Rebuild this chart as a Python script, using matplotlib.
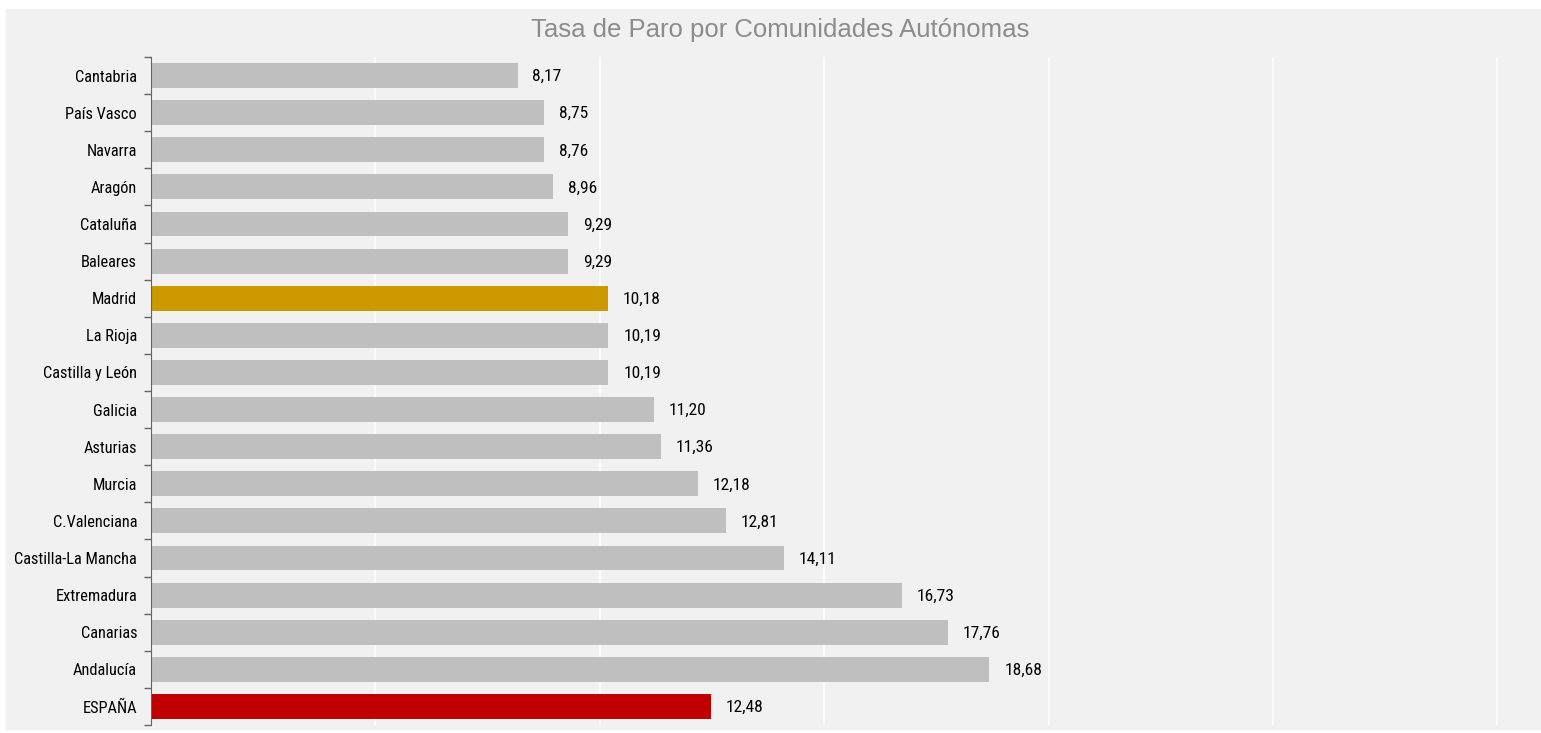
import matplotlib
matplotlib.use("Agg")
import matplotlib.pyplot as plt
from matplotlib import font_manager
from matplotlib.font_manager import FontProperties

regions = ["Cantabria", "País Vasco", "Navarra", "Aragón", "Cataluña", "Baleares",
           "Madrid", "La Rioja", "Castilla y León", "Galicia", "Asturias", "Murcia",
           "C.Valenciana", "Castilla-La Mancha", "Extremadura", "Canarias",
           "Andalucía", "ESPAÑA"]
rates = [8.17, 8.75, 8.76, 8.96, 9.29, 9.29, 10.18, 10.19, 10.19, 11.20, 11.36,
         12.18, 12.81, 14.11, 16.73, 17.76, 18.68, 12.48]
highlight = {"Madrid": "#cc9900", "ESPAÑA": "#c00000"}


def pick_narrow_font():
    # look for a narrow / condensed regular face among installed fonts
    cands = []
    for f in font_manager.fontManager.ttflist:
        tag = (f.name + " " + f.fname).lower()
        cond = ("narrow" in tag or "condensed" in tag or f.stretch in ("condensed", "semi-condensed"))
        if cond and f.weight in (400, "normal", "regular") and f.style == "normal":
            rank = 0 if "liberation" in tag else 1 if "roboto" in tag else 2 if "open" in tag else 3
            cands.append((rank, f.fname))
    if cands:
        cands.sort()
        return FontProperties(fname=cands[0][1])
    return FontProperties(family="DejaVu Sans")


narrow = pick_narrow_font()

W, H = 1541, 733
fig = plt.figure(figsize=(W / 100, H / 100), dpi=100, facecolor="white")
fig.patches.append(plt.Rectangle((6 / W, 1 - 729 / H), (W - 6) / W, (729 - 9) / H,
                                 transform=fig.transFigure, color="#f1f1f1", zorder=-5))
ax = fig.add_axes([151 / W, 1 - 725 / H, (W - 151) / W, (725 - 57) / H])
ax.set_facecolor("none")
ax.set_zorder(2)

cat_fp = narrow.copy()
cat_fp.set_size(11.8)
val_fp = narrow.copy()
val_fp.set_size(12.5)

y = list(range(len(regions)))
colors = [highlight.get(r, "#bfbfbf") for r in regions]
ax.barh(y, rates, height=0.67, color=colors, zorder=2)
for yi, v in zip(y, rates):
    ax.text(v + 0.33, yi + 0.03, f"{v:.2f}".replace(".", ","), va="center", ha="left",
            fontproperties=val_fp, color="black")

ax.set_ylim(len(regions) - 0.5, -0.5)
ax.set_xlim(0, (W - 151) / 44.88)
ax.set_xticks([5, 10, 15, 20, 25, 30])
ax.xaxis.grid(True, color="white", linewidth=1.1, zorder=1)
ax.tick_params(axis="x", length=0, labelbottom=False)
ax.set_yticks(y)
ax.set_yticklabels(regions, fontproperties=cat_fp)
ax.set_yticks([i - 0.5 for i in range(len(regions) + 1)], minor=True)
ax.tick_params(axis="y", which="major", length=0, pad=10)
ax.tick_params(axis="y", which="minor", length=5, color="#666666", width=1)
for s in ["top", "right", "bottom"]:
    ax.spines[s].set_visible(False)
ax.spines["left"].set_color("#666666")

fig.text(780 / W, 1 - 30 / H, "Tasa de Paro por Comunidades Autónomas", ha="center",
         va="center", fontsize=18.5, color="#8c8c8c", family="Liberation Sans")

fig.savefig("out.png", dpi=100, facecolor="white")
